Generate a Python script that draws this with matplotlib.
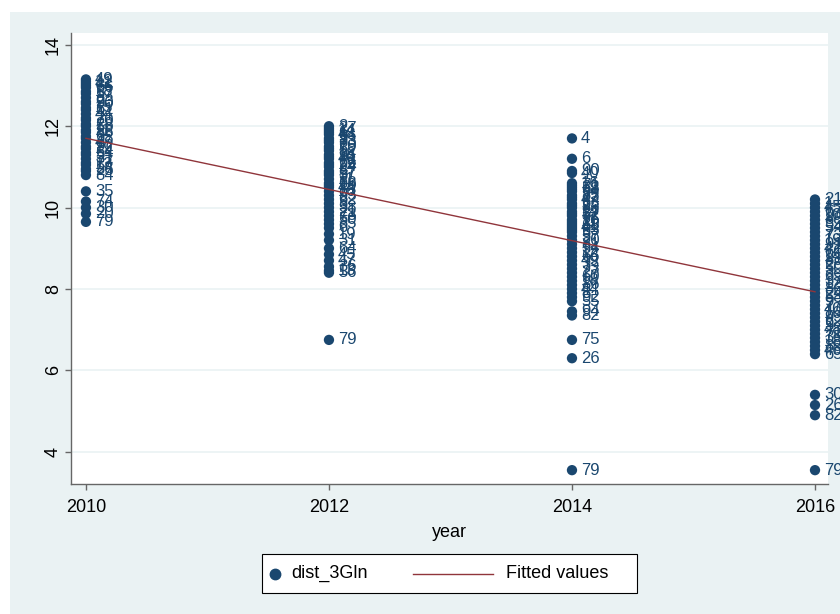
import matplotlib
matplotlib.use("Agg")
import matplotlib.pyplot as plt
from matplotlib.patches import Rectangle
from matplotlib.lines import Line2D
import numpy as np

plt.rcParams['font.family'] = ['Liberation Sans', 'DejaVu Sans']

# dist_3Gln by year, with observation ids used as marker labels
years = [2010, 2012, 2014, 2016]

vals_2010 = [13.15, 13.1, 13.05, 13.0, 12.95, 12.85, 12.8, 12.7, 12.6, 12.55,
             12.45, 12.4, 12.3, 12.2, 12.15, 12.05, 12.0, 11.9, 11.85, 11.75,
             11.7, 11.6, 11.5, 11.45, 11.35, 11.3, 11.2, 11.1, 11.05, 10.95,
             10.9, 10.8, 10.4, 10.15, 10.0, 9.85, 9.65]
ids_2010 = [49, 12, 41, 3, 66, 18, 57, 8, 23, 90, 15, 61, 44, 2, 70, 28, 53, 11,
            86, 6, 38, 47, 92, 19, 64, 5, 31, 77, 13, 58, 25, 84, 35, 74, 30, 20, 79]

vals_2012 = [12.0, 11.95, 11.9, 11.85, 11.8, 11.7, 11.65, 11.6, 11.5, 11.45,
             11.4, 11.3, 11.25, 11.2, 11.1, 11.05, 11.0, 10.9, 10.85, 10.8,
             10.7, 10.6, 10.55, 10.5, 10.4, 10.3, 10.2, 10.1, 10.0, 9.9,
             9.8, 9.7, 9.6, 9.5, 9.35, 9.2, 9.0, 8.85, 8.7, 8.55,
             8.45, 8.4, 6.75]
ids_2012 = [2, 27, 14, 61, 48, 9, 83, 33, 70, 5, 52, 18, 91, 40, 66, 12, 24, 87,
            57, 3, 11, 68, 29, 44, 16, 93, 62, 8, 38, 21, 73, 50, 85, 6, 19, 31,
            64, 45, 47, 36, 13, 56, 79]

vals_2014 = [11.7, 11.2, 10.9, 10.85, 10.6, 10.55, 10.5, 10.45, 10.4, 10.3,
             10.25, 10.2, 10.1, 10.05, 10.0, 9.9, 9.85, 9.8, 9.7, 9.65,
             9.6, 9.55, 9.5, 9.45, 9.4, 9.3, 9.2, 9.1, 9.0, 8.9,
             8.8, 8.7, 8.6, 8.5, 8.4, 8.3, 8.2, 8.1, 8.0, 7.9,
             7.8, 7.7, 7.45, 7.35, 6.75, 6.3, 3.55]
ids_2014 = [4, 6, 90, 40, 16, 71, 33, 58, 9, 85, 22, 47, 63, 2, 88, 14, 37, 52,
            76, 11, 29, 68, 41, 93, 5, 57, 20, 81, 34, 12, 66, 49, 3, 73, 27, 60,
            18, 86, 44, 8, 92, 55, 94, 82, 75, 26, 79]

vals_2016 = [10.2, 10.1, 10.0, 9.9, 9.8, 9.7, 9.6, 9.5, 9.4, 9.3,
             9.2, 9.1, 9.0, 8.9, 8.8, 8.7, 8.6, 8.5, 8.4, 8.3,
             8.2, 8.1, 8.0, 7.9, 7.8, 7.7, 7.6, 7.5, 7.4, 7.3,
             7.2, 7.1, 7.0, 6.9, 6.8, 6.7, 6.6, 6.5, 6.4,
             5.4, 5.15, 4.9, 3.55]
ids_2016 = [21, 1, 45, 67, 10, 88, 32, 54, 7, 73, 19, 91, 42, 60, 14, 83, 28, 50,
            3, 69, 37, 12, 86, 24, 58, 9, 77, 40, 16, 93, 62, 5, 48, 71, 35, 18,
            89, 46, 65, 30, 26, 82, 79]

all_vals = [vals_2010, vals_2012, vals_2014, vals_2016]
all_ids = [ids_2010, ids_2012, ids_2014, ids_2016]

navy = '#1a476f'
maroon = '#90353b'
region = '#eaf2f3'

W, H = 840, 614
fig = plt.figure(figsize=(W / 100, H / 100), dpi=100, facecolor='white')
fig.patches.append(Rectangle((10 / W, 0), 1, 1 - 12 / H, transform=fig.transFigure,
                             facecolor=region, edgecolor='none', zorder=-10))

ax = fig.add_axes([71 / W, 1 - 484 / H, (828 - 71) / W, (484 - 33) / H])
ax.set_facecolor('white')

x_all, y_all = [], []
for yr, vals, ids in zip(years, all_vals, all_ids):
    xs = [yr] * len(vals)
    ax.scatter(xs, vals, s=55, color=navy, edgecolors='none', zorder=3, clip_on=False)
    for v, i in zip(vals, ids):
        ax.annotate(str(i), (yr, v), xytext=(6.5, 0), textcoords='offset points',
                    ha='left', va='center', fontsize=12, color=navy,
                    annotation_clip=False, zorder=4)
    x_all += xs
    y_all += vals

# linear fit
b, a = np.polyfit(x_all, y_all, 1)
fx = np.array([min(years), max(years)])
ax.plot(fx, a + b * fx, color=maroon, lw=1, zorder=5)

ax.set_xlim(2009.877, 2016.107)
ax.set_ylim(3.21, 14.29)
ax.set_xticks([2010, 2012, 2014, 2016])
ax.set_yticks([4, 6, 8, 10, 12, 14])
ax.grid(axis='y', color=region, lw=1.2, zorder=0)
ax.grid(axis='x', visible=False)

for s in ['top', 'right']:
    ax.spines[s].set_visible(False)
for s in ['left', 'bottom']:
    ax.spines[s].set_color('#666666')
    ax.spines[s].set_linewidth(1)

ax.tick_params(axis='both', length=4.5, width=1, color='#666666', labelsize=13)
ax.tick_params(axis='x', pad=6)
ax.tick_params(axis='y', pad=2)
for lab in ax.get_yticklabels():
    lab.set_rotation(90)
    lab.set_va('center')

ax.set_xlabel('year', fontsize=13, labelpad=6)

# legend box drawn in figure pixels
def fx_(px):
    return px / W

def fy_(py):
    return 1 - py / H

fig.patches.append(Rectangle((fx_(262), fy_(593)), (637 - 262) / W, (593 - 554) / H,
                             transform=fig.transFigure, facecolor='white',
                             edgecolor='black', lw=0.8, zorder=5))
ly = fy_(573.5)
fig.lines.append(Line2D([fx_(275)], [ly], marker='o', ms=7.5, color=navy,
                        transform=fig.transFigure, zorder=6))
fig.text(fx_(291), ly, 'dist_3Gln', fontsize=13, va='center', ha='left', zorder=6)
fig.lines.append(Line2D([fx_(413), fx_(493)], [ly, ly], color=maroon, lw=1,
                        transform=fig.transFigure, zorder=6))
fig.text(fx_(506), ly, 'Fitted values', fontsize=13, va='center', ha='left', zorder=6)

fig.savefig('out.png', dpi=100, facecolor=fig.get_facecolor())
